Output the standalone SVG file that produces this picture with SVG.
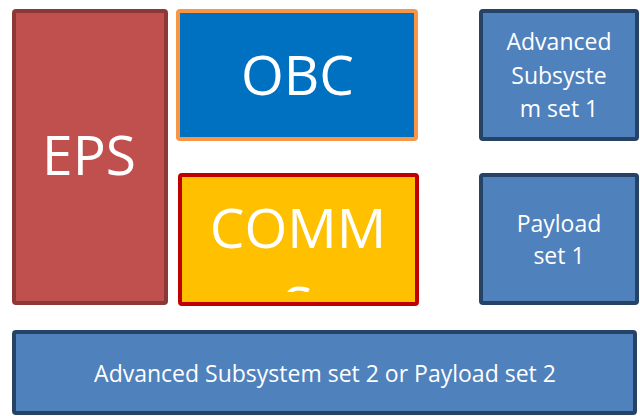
<svg xmlns="http://www.w3.org/2000/svg" width="640" height="416" viewBox="0 0 640 416">
  <defs>
    <style>
      .box { stroke-width: 4; }
      .t { font-family: "Open Sans", "Liberation Sans", sans-serif; fill: #ffffff; text-anchor: middle; }
      .big { font-size: 55px; }
      .small { font-size: 23px; }
      .blue { fill: #4F81BD; stroke: #264366; }
    </style>
    <clipPath id="commsClip">
      <rect x="182" y="177" width="233" height="115"/>
    </clipPath>
  </defs>
  <rect width="640" height="416" fill="#ffffff"/>
  <g id="eps">
    <rect class="box" x="14" y="11" width="152" height="292" rx="2" fill="#C0504D" stroke="#8C3836"/>
    <text class="t big" x="89" y="175" font-size="51">EPS</text>
  </g>
  <g id="obc">
    <rect class="box" x="178" y="11" width="238" height="128" rx="2" fill="#0070C0" stroke="#F79646"/>
    <text class="t big" x="297.5" y="95">OBC</text>
  </g>
  <g id="comms">
    <rect class="box" x="180" y="175" width="237" height="129" rx="2" fill="#FFC000" stroke="#C00000"/>
    <g clip-path="url(#commsClip)">
      <text class="t big" x="298" y="248" font-size="56">COMM</text>
      <text class="t big" x="298" y="326" font-size="56">S</text>
    </g>
  </g>
  <g id="adv1">
    <rect class="box blue" x="481" y="11" width="156" height="128" rx="2"/>
    <text class="t small" x="559" y="50">Advanced</text>
    <text class="t small" x="559" y="83.5">Subsyste</text>
    <text class="t small" x="559" y="117">m set 1</text>
  </g>
  <g id="payload1">
    <rect class="box blue" x="481" y="175" width="156" height="128" rx="2"/>
    <text class="t small" x="559" y="232">Payload</text>
    <text class="t small" x="559" y="264">set 1</text>
  </g>
  <g id="adv2">
    <rect class="box blue" x="14" y="332" width="621" height="81" rx="2"/>
    <text class="t small" x="325" y="382">Advanced Subsystem set 2 or Payload set 2</text>
  </g>
  <g id="connectors"></g>
</svg>
